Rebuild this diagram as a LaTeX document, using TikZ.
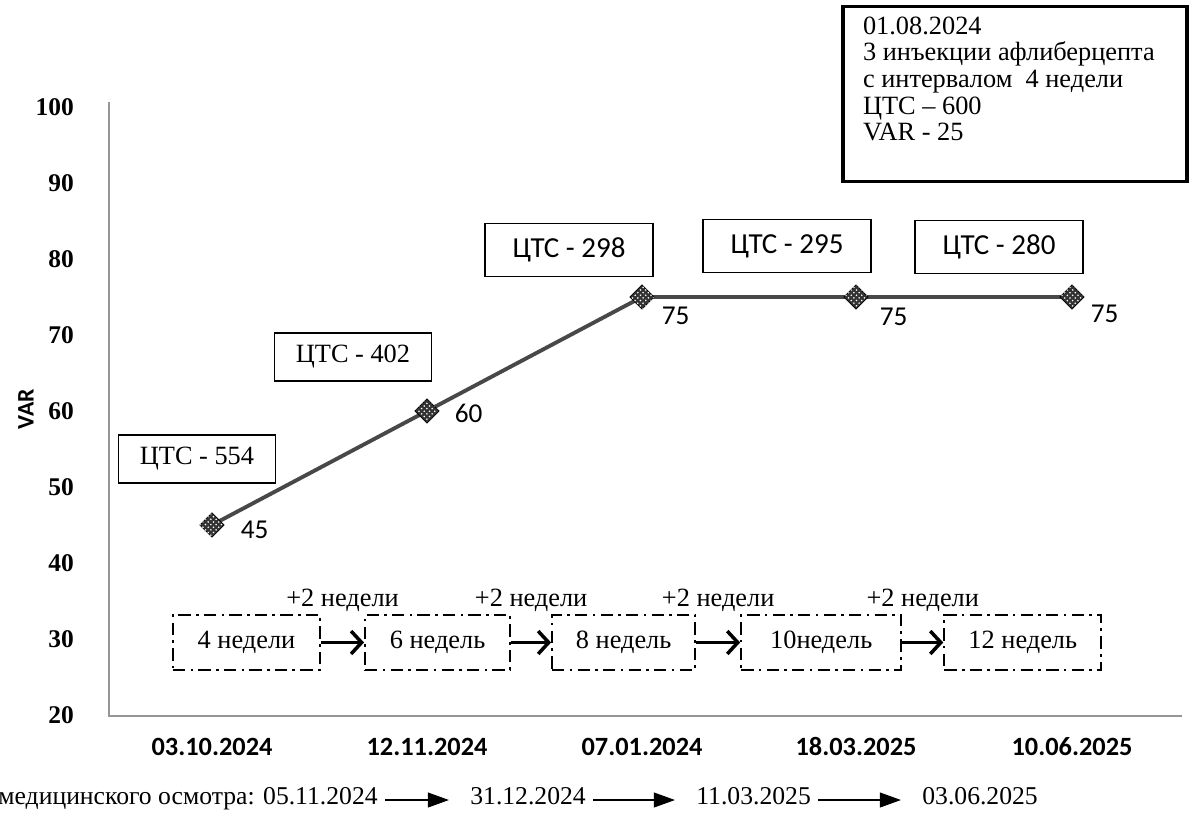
\documentclass[tikz,border=0pt]{standalone}
\usepackage{fontspec}
\setmainfont{Liberation Serif}
\newfontfamily\calibfont{Carlito}
\usepackage{tikz}
\usetikzlibrary{arrows.meta,positioning,shapes.geometric,patterns}
\definecolor{trend}{RGB}{72,72,72}
\definecolor{axisgray}{RGB}{150,150,150}

\begin{document}
\begin{tikzpicture}[
    x=0.02cm, y=-0.02cm,
    ctsbox/.style={draw, line width=0.9pt, minimum width=3.14cm, minimum height=0.96cm,
                   font=\fontsize{15}{18}\selectfont},
    ctsboxsans/.style={draw, line width=0.9pt, minimum width=3.36cm, minimum height=1.06cm,
                   font=\calibfont\fontsize{16.5}{19}\selectfont},
    infobox/.style={draw, line width=1.8pt, inner xsep=0.4cm, inner ysep=0.2cm,
                   font=\fontsize{15}{15.2}\selectfont},
    weekbox/.style={draw, line width=1.2pt, dash pattern=on 7pt off 3pt on 1.5pt off 3pt,
                   minimum height=1.1cm, font=\fontsize{15}{18}\selectfont},
    weekarrow/.style={-{Straight Barb[length=6pt,width=13pt,line width=2pt]}, line width=1.7pt},
    weeklbl/.style={font=\fontsize{15}{18}\selectfont},
    marker/.style={diamond, draw=black, fill=black!80, minimum size=14pt, inner sep=0pt,
                   postaction={pattern=crosshatch dots, pattern color=white}},
    vallbl/.style={font=\calibfont\fontsize{15.5}{18}\selectfont},
    datelbl/.style={text height=0.7em, text depth=0.1em, font=\calibfont\bfseries\fontsize{15}{18}\selectfont},
    ticklbl/.style={anchor=east, font=\bfseries\fontsize{14.5}{16}\selectfont},
    flowtxt/.style={inner sep=0pt, text height=0.7em, text depth=0.2em, font=\fontsize{14.6}{17}\selectfont},
    dateflow/.style={-{Triangle[length=12pt,width=8.5pt]}, line width=0.7pt, shorten <=4pt, shorten >=12pt}
  ]
    \useasboundingbox (0,0) rectangle (1193,825);

    \draw[axisgray, line width=0.6pt] (109,102) -- (109,716) -- (1182,716);
    \foreach \v in {20,30,...,100}
      \node[ticklbl] (t\v) at (80,{715-(\v-20)*7.6}) {\v};
    \node[font=\calibfont\bfseries\fontsize{13.5}{15}\selectfont, rotate=90] (ylbl) at (26,409) {VAR};

    \coordinate (c1) at (212,525);
    \coordinate (c2) at (427,411);
    \coordinate (c3) at (642,297);
    \coordinate (c4) at (856,297);
    \coordinate (c5) at (1072,297);
    \draw[trend, line width=2.2pt] (c1) -- (c2) -- (c3) -- (c4) -- (c5);
    \node[marker] (p1) at (c1) {};
    \node[marker] (p2) at (c2) {};
    \node[marker] (p3) at (c3) {};
    \node[marker] (p4) at (c4) {};
    \node[marker] (p5) at (c5) {};

    \node[vallbl, right=0.2cm of p1, yshift=-0.1cm] (v1) {45};
    \node[vallbl, right=0.18cm of p2, yshift=-0.04cm] (v2) {60};
    \node[vallbl, right=0.02cm of p3, yshift=-0.38cm] (v3) {75};
    \node[vallbl, right=0.1cm of p4, yshift=-0.4cm] (v4) {75};
    \node[vallbl, right=0cm of p5, yshift=-0.34cm] (v5) {75};

    \node[ctsbox] (c554) at (197,459) {ЦТС - 554};
    \node[ctsbox] (c402) at (353,357) {ЦТС - 402};
    \node[ctsboxsans] (c298) at (569,250) {ЦТС - 298};
    \node[ctsboxsans] (c295) at (787,246) {ЦТС - 295};
    \node[ctsboxsans] (c280) at (999,247) {ЦТС - 280};

    \node[infobox, anchor=north] (info) at (1015,5)
      {\parbox[t][3.1cm][t]{6.08cm}{\raggedright 01.08.2024\\3 инъекции афлиберцепта\\с интервалом~ 4 недели\\ЦТС – 600\\VAR - 25}};

    \node[weekbox, minimum width=2.94cm] (w4) at (246.5,642.5) {4 недели};
    \node[weekbox, minimum width=2.9cm, right=0.86cm of w4] (w6) {6 недель};
    \node[weekbox, minimum width=2.86cm, right=0.8cm of w6] (w8) {8 недель};
    \node[weekbox, minimum width=3.2cm, right=0.88cm of w8] (w10) {10недель};
    \node[weekbox, minimum width=3.14cm, right=0.82cm of w10] (w12) {12 недель};

    \draw[weekarrow] (w4) -- node[weeklbl, above=0.48cm] (s1) {+2 недели} (w6);
    \draw[weekarrow] (w6) -- node[weeklbl, above=0.48cm] (s2) {+2 недели} (w8);
    \draw[weekarrow] (w8) -- node[weeklbl, above=0.48cm] (s3) {+2 недели} (w10);
    \draw[weekarrow] (w10) -- node[weeklbl, above=0.48cm] (s4) {+2 недели} (w12);

    \coordinate (dateline) at (0,750);
    \node[datelbl] (d1) at (p1 |- dateline) {03.10.2024};
    \node[datelbl] (d2) at (p2 |- dateline) {12.11.2024};
    \node[datelbl] (d3) at (p3 |- dateline) {07.01.2024};
    \node[datelbl] (d4) at (p4 |- dateline) {18.03.2025};
    \node[datelbl] (d5) at (p5 |- dateline) {10.06.2025};

    \node[flowtxt, anchor=east] (m0) at (378,800) {медицинского осмотра: 05.11.2024};
    \node[flowtxt, anchor=west] (m1) at (470,800) {31.12.2024};
    \node[flowtxt, anchor=west] (m2) at (696,800) {11.03.2025};
    \node[flowtxt, anchor=west] (m3) at (922,800) {03.06.2025};
    \draw[dateflow] (m0) -- (m1);
    \draw[dateflow] (m1) -- (m2);
    \draw[dateflow] (m2) -- (m3);
\end{tikzpicture}
\end{document}
